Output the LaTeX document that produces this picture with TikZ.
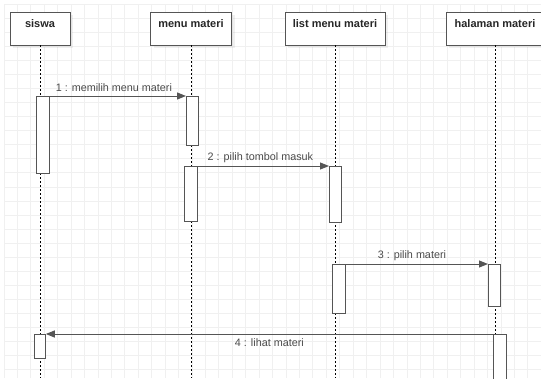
\documentclass[tikz,border=0pt]{standalone}
\usepackage{fontspec}
\setmainfont{Liberation Sans}
\usetikzlibrary{positioning,arrows.meta,shadows}
\definecolor{linegray}{HTML}{555555}
\definecolor{textgray}{HTML}{4A4A4A}
\definecolor{gridgray}{HTML}{F0F0F0}

\begin{document}
\begin{tikzpicture}[x=1pt,y=-1pt,
        actor/.style = {draw=linegray, fill=white, line width=0.8pt, minimum height=33pt,
          font=\bfseries\fontsize{11}{13}\selectfont, text=black!85,
          inner xsep=2pt, inner ysep=2pt, text height=13pt, text depth=16pt,
          drop shadow={shadow xshift=3pt, shadow yshift=-3pt, opacity=0.12}},
        act/.style = {draw=linegray, fill=white, line width=0.8pt, anchor=north west, inner sep=0pt},
        life/.style = {line width=0.6pt, dash pattern=on 2pt off 2pt},
        msg/.style = {draw=linegray, line width=1pt, -{Triangle[length=9pt,width=7pt]}},
        lbl/.style = {text=textgray, font=\fontsize{10.8}{12}\selectfont, inner sep=0pt, anchor=base}
        ]
        \useasboundingbox (0,0) rectangle (541,378);
        % background grid
        \draw[gridgray, line width=0.8pt, xstep=13.43pt, ystep=14.07pt, shift={(4,4)}] (0,0) grid (537,374);
        \coordinate (floor) at (0,378);

        % objects
        \node[actor, minimum width=60pt] (siswa) at (40,28.5) {siswa};
        \node[actor, minimum width=81pt] (menu) at (191,28.5) {menu materi};
        \node[actor, minimum width=100pt] (list) at (335,28.5) {list menu materi};
        \node[actor, minimum width=98pt] (halaman) at (495,28.5) {halaman materi};

        % lifelines
        \draw[life] (siswa.south) -- (siswa.south |- floor);
        \draw[life] (menu.south) -- (menu.south |- floor);
        \draw[life] (list.south) -- (list.south |- floor);
        \draw[life] (halaman.south) -- (halaman.south |- floor);

        % activations
        \node[act, minimum width=13pt, minimum height=77pt] (sw1) at (36,96) {};
        \node[act, minimum width=11.5pt, minimum height=49pt] (mm1) at (186,96) {};
        \node[act, minimum width=13pt, minimum height=55pt] (mm2) at (184,166) {};
        \node[act, minimum width=12pt, minimum height=56pt] (lm1) at (329,166) {};
        \node[act, minimum width=13pt, minimum height=49pt] (lm2) at (332,264) {};
        \node[act, minimum width=12pt, minimum height=42pt] (hm1) at (488,264) {};
        \node[act, minimum width=13pt, minimum height=60pt] (hm2) at (493,334) {};
        \node[act, minimum width=11pt, minimum height=24pt] (sw2) at (34,334) {};

        % messages
        \draw[msg] (sw1.north east) -- node[lbl, xshift=-4pt, yshift=5pt] {1 : memilih menu materi} (mm1.north west);
        \draw[msg] (mm2.north east) -- node[lbl, xshift=-3pt, yshift=6pt] {2 : pilih tombol masuk} (lm1.north west);
        \draw[msg] (lm2.north east) -- node[lbl, xshift=-5pt, yshift=6pt] {3 : pilih materi} (hm1.north west);
        \draw[msg] (hm2.north west) -- node[lbl, xshift=0pt, yshift=-12pt] {4 : lihat materi} (sw2.north east);
\end{tikzpicture}
\end{document}
